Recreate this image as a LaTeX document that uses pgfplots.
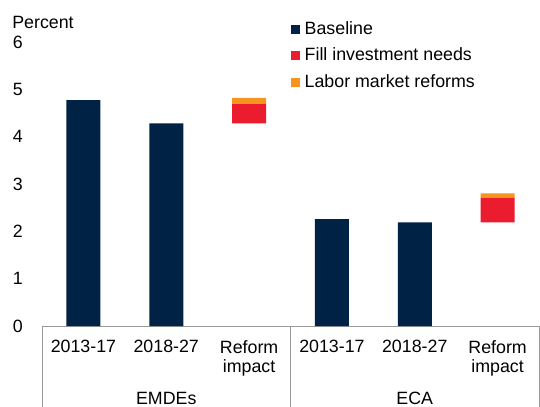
\documentclass[border=0pt]{standalone}
\usepackage{fontspec}
\setmainfont{Liberation Sans}
\usepackage{pgfplots}
\pgfplotsset{compat=1.18}

\definecolor{navy}{HTML}{002244}
\definecolor{wbred}{HTML}{EB1C2D}
\definecolor{wborange}{HTML}{F7941D}

\begin{document}
\fontsize{17.8bp}{20bp}\selectfont
\begin{tikzpicture}
\path[use as bounding box] (0,0) rectangle (540bp,407bp);
\begin{axis}[
    at={(42bp,81bp)}, anchor=south west,
    scale only axis,
    width=497bp, height=284bp,
    ybar stacked,
    bar width=34bp,
    xmin=-0.5, xmax=5.5,
    ymin=0, ymax=6,
    ytick={0,1,...,6},
    xtick={0,1,...,5},
    xticklabels={2013-17,2018-27,Reform\\impact,2013-17,2018-27,Reform\\impact},
    xticklabel style={align=center, text width=75bp, yshift=-8bp},
    yticklabel style={xshift=-13bp},
    /pgf/number format/assume math mode=true,
    tick style={draw=none},
    extra x ticks={-0.5,2.5,5.5},
    extra x tick labels={},
    extra x tick style={major tick length=81bp, tick align=outside,
        tick style={draw=gray!80, line width=0.6pt}},
    axis x line*=bottom,
    axis y line*=left,
    y axis line style={draw=none},
    x axis line style={draw=gray!80, line width=0.6pt, -},
    ticklabel style={font=\fontsize{17.8bp}{19bp}\selectfont},
    legend style={at={(0.5,1.08)}, anchor=north west, draw=none, fill=none,
        font=\fontsize{17.8bp}{20bp}\selectfont, row sep=7bp, inner sep=0pt,
        cells={anchor=west}},
    legend cell align=left,
    legend image code/.code={\fill[#1] (0bp,-4.5bp) rectangle (9bp,4.5bp); \path (12bp,0);},
    clip=false,
]
\addplot[fill=navy, draw=none] coordinates {(0,4.77) (1,4.28) (2,0) (3,2.26) (4,2.19) (5,0)};
\addplot[fill=none, draw=none, forget plot] coordinates {(0,0) (1,0) (2,4.28) (3,0) (4,0) (5,2.19)};
\addplot[fill=wbred, draw=none] coordinates {(0,0) (1,0) (2,0.41) (3,0) (4,0) (5,0.52)};
\addplot[fill=wborange, draw=none] coordinates {(0,0) (1,0) (2,0.13) (3,0) (4,0) (5,0.09)};
\legend{Baseline, Fill investment needs, Labor market reforms}
\node[anchor=center] at (axis cs:1,0) [yshift=-72bp] {EMDEs};
\node[anchor=center] at (axis cs:4,0) [yshift=-72bp] {ECA};
\node[anchor=center] at (rel axis cs:0,1) [xshift=1bp, yshift=20bp] {Percent};
\end{axis}
\end{tikzpicture}
\end{document}
